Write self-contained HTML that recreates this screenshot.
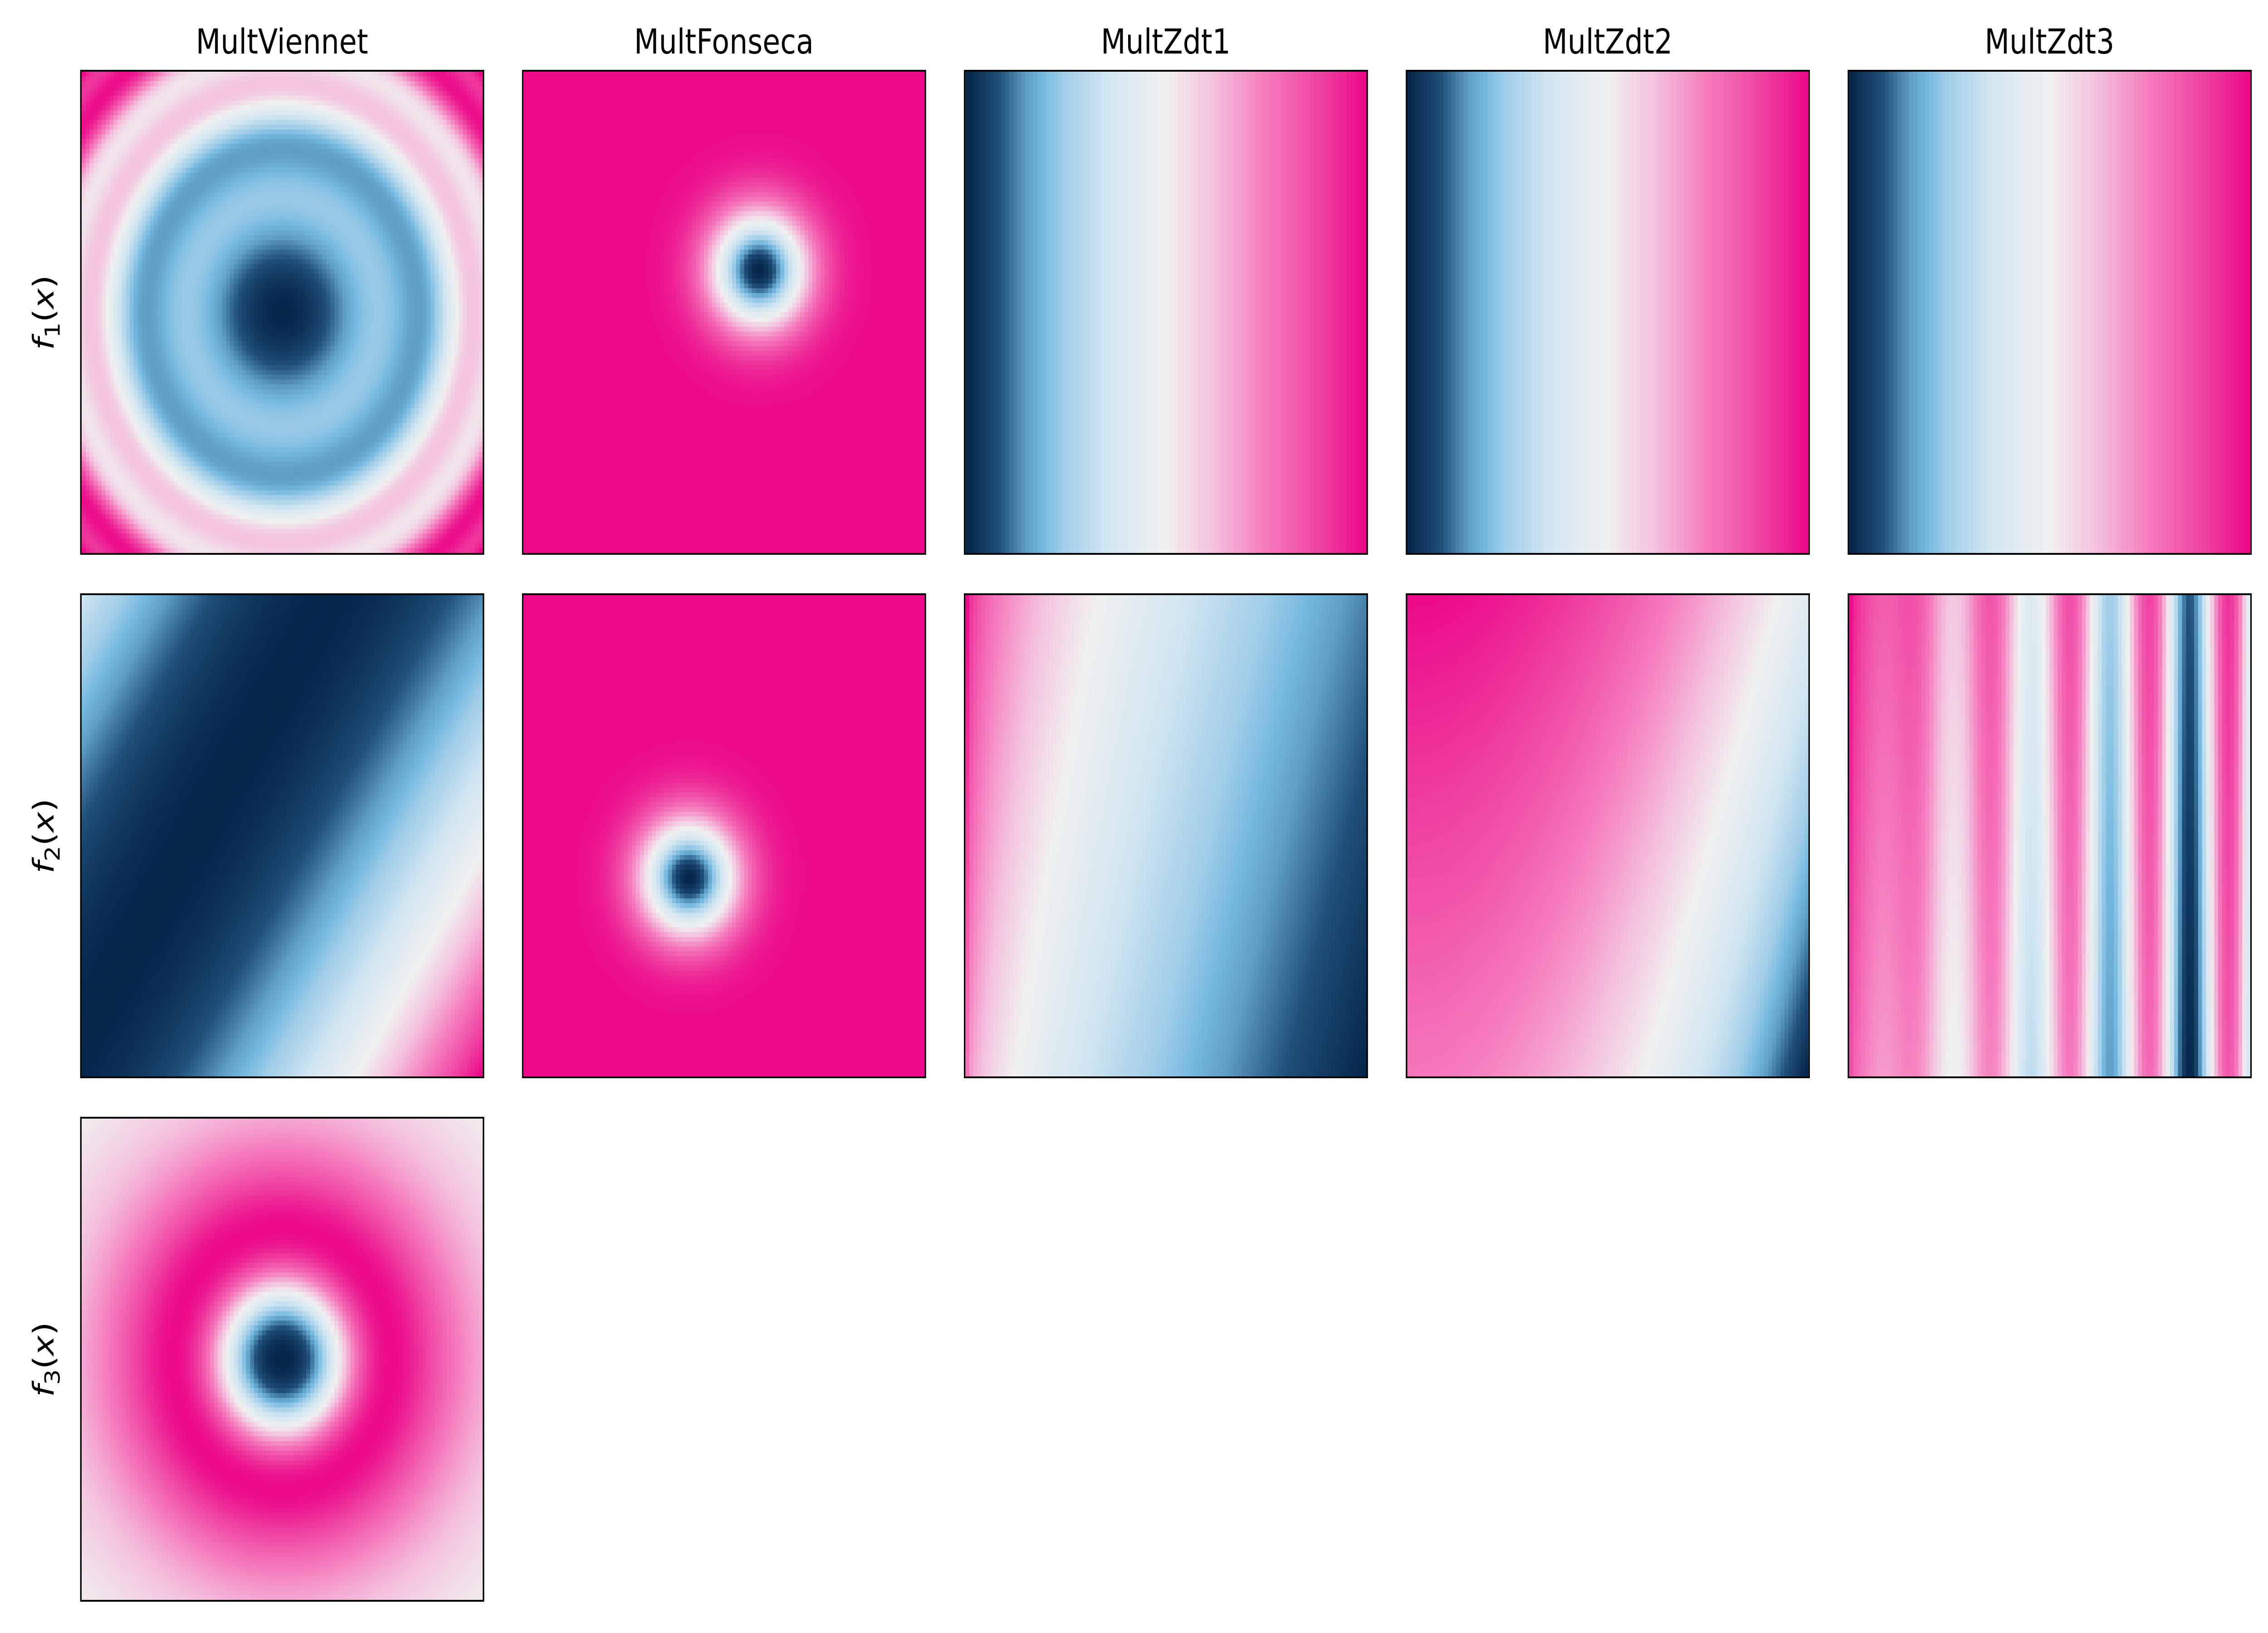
<!DOCTYPE html>
<html><head><meta charset="utf-8">
<style>
html,body{margin:0;padding:0;background:#fff;width:100%;height:100%;overflow:hidden;}
#fig{position:absolute;left:0;top:0;width:6000px;height:3600px;background:#fff;overflow:hidden;font-family:"DejaVu Sans","Liberation Sans",sans-serif;transform-origin:0 0;}
.panel{position:absolute;width:1069px;height:1069px;box-sizing:border-box;border:4px solid #000;}
.panel canvas{width:100%;height:100%;display:block;image-rendering:pixelated;}
.title{position:absolute;width:1069px;text-align:center;font-size:76px;line-height:90px;color:#000;}
.ylab{position:absolute;font-size:76px;line-height:90px;font-family:"DejaVu Sans",sans-serif;transform:rotate(-90deg);transform-origin:center;white-space:nowrap;}
</style></head>
<body>
<div id="fig"></div>
<script>
// ---- data ----
const problems = ["MultViennet","MultFonseca","MultZdt1","MultZdt2","MultZdt3"];
const objectiveLabels = ["1","2","3"];
const gridSize = 100;
const domainMin = [-3,-4,0,0,0];
const domainMax = [3,4,1,1,1];
const nVars = [2,2,30,30,30];
const objectiveCount = [3,2,2,2,2];

function gZ(x2,n){return 1+9*x2/(n-1);}
function evalObj(p,k,x,y){
  if(p===0){
    const r2=x*x+y*y;
    if(k===0) return 0.5*r2+Math.sin(r2);
    if(k===1) return Math.pow(3*x-2*y+4,2)/8+Math.pow(x-y+1,2)/27+15;
    return 1/(r2+1)-1.1*Math.exp(-r2);
  }
  if(p===1){
    const s=1/Math.sqrt(2);
    if(k===0) return 1-Math.exp(-((x-s)*(x-s)+(y-s)*(y-s)));
    return 1-Math.exp(-((x+s)*(x+s)+(y+s)*(y+s)));
  }
  const g=gZ(y,nVars[p]);
  if(k===0) return x;
  if(p===2) return g*(1-Math.sqrt(x/g));
  if(p===3) return g*(1-Math.pow(x/g,2));
  return g*(1-Math.sqrt(x/g)-(x/g)*Math.sin(10*Math.PI*x));
}
// colormap stops
const cmapPos=[0,0.08,0.15,0.19,0.24,0.35,0.5,0.62,0.75,0.9,1];
const cmapCol=[[6,38,74],[31,79,120],[95,159,200],[116,184,223],[160,205,232],[210,230,241],[240,240,240],[244,192,221],[245,124,189],[239,60,159],[236,10,138]];
function cmap(t){
  t=Math.max(0,Math.min(1,t));
  for(let i=1;i<cmapPos.length;i++){
    if(t<=cmapPos[i]){
      const f=(t-cmapPos[i-1])/(cmapPos[i]-cmapPos[i-1]);
      const a=cmapCol[i-1],b=cmapCol[i];
      return [a[0]+(b[0]-a[0])*f,a[1]+(b[1]-a[1])*f,a[2]+(b[2]-a[2])*f];
    }
  }
  return cmapCol[cmapCol.length-1];
}
// ---- layout ----
const colX0=211.5, colStep=1169, rowY0=154, rowStep=1154, size=1069;
const fig=document.getElementById('fig');
function fit(){
  const sx=(window.innerWidth||6000)/6000, sy=(window.innerHeight||3600)/3600;
  fig.style.transform='scale('+sx+','+sy+')';
}
fit();
window.addEventListener('resize',fit);
problems.forEach((name,p)=>{
  const t=document.createElement('div');
  t.className='title';
  
  
  t.style.left=(colX0+p*colStep)+'px';
  t.style.top='47px';
  t.textContent=name;
  fig.appendChild(t);
});
objectiveLabels.forEach((lab,k)=>{
  const y=document.createElement('div');
  y.className='ylab';
  
  
  y.innerHTML='<i>f</i><sub style="font-size:54px">'+lab+'</sub>(<i>x</i>)';
  fig.appendChild(y);
  const w=y.offsetWidth,h=y.offsetHeight;
  y.style.left=(127-w/2)+'px';
  y.style.top=(rowY0+k*rowStep+size/2-h/2)+'px';
});
for(let p=0;p<problems.length;p++){
  for(let k=0;k<objectiveCount[p];k++){
    const d=document.createElement('div');
    d.className='panel';
    
    
    d.style.left=(colX0+p*colStep)+'px';
    d.style.top=(rowY0+k*rowStep)+'px';
    const c=document.createElement('canvas');
    c.width=gridSize;c.height=gridSize;
    
    
    d.appendChild(c);
    fig.appendChild(d);
    const vals=[];let mn=Infinity,mx=-Infinity;
    for(let j=0;j<gridSize;j++){
      const yv=domainMin[p]+(domainMax[p]-domainMin[p])*(gridSize-1-j)/(gridSize-1);
      for(let i=0;i<gridSize;i++){
        const xv=domainMin[p]+(domainMax[p]-domainMin[p])*i/(gridSize-1);
        const v=evalObj(p,k,xv,yv);
        vals.push(v);if(v<mn)mn=v;if(v>mx)mx=v;
      }
    }
    const ctx=c.getContext('2d');
    const img=ctx.createImageData(gridSize,gridSize);
    for(let q=0;q<vals.length;q++){
      const col=cmap((vals[q]-mn)/(mx-mn||1));
      img.data[q*4]=col[0];img.data[q*4+1]=col[1];img.data[q*4+2]=col[2];img.data[q*4+3]=255;
    }
    ctx.putImageData(img,0,0);
  }
}
</script>
</body></html>
